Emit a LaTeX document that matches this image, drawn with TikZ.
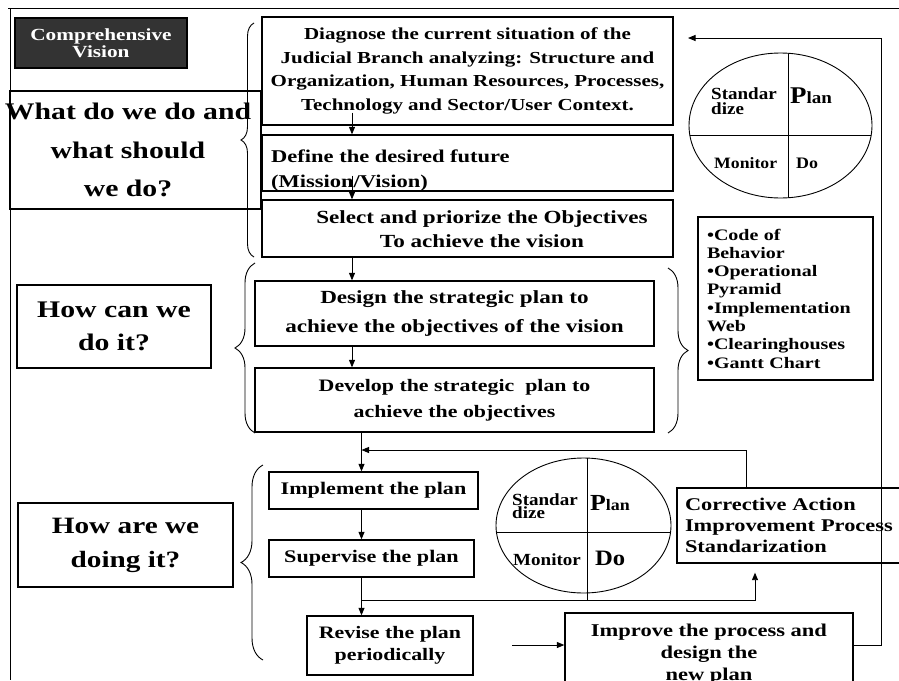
\documentclass[tikz,border=0pt]{standalone}
\usepackage{fontspec}
\setmainfont{Liberation Serif}[FakeStretch=1.25]
\newfontfamily\cyclefont{Liberation Serif}[FakeStretch=1.12]
\usetikzlibrary{arrows.meta,shapes.geometric,decorations.pathreplacing}
\newcommand\fs[2]{\fontsize{#1}{#2}\selectfont\bfseries}
\newcommand\cs[2]{\cyclefont\fontsize{#1}{#2}\selectfont\bfseries}
\begin{document}
\begin{tikzpicture}[x=1pt,y=-1pt,
  box/.style={draw, line width=1.3pt, inner sep=0pt, align=center},
  txt/.style={inner sep=0pt, align=center},
  conn/.style={line width=0.9pt, -{Triangle[length=7.5pt,width=6pt]}},
  plain/.style={line width=0.9pt},
  brc/.style={line width=0.9pt, decorate, decoration={brace, amplitude=#1}},
  lbl/.style={inner sep=0pt, anchor=base west},
  oval/.style={draw, ellipse, line width=0.9pt, inner sep=0pt},
]
\useasboundingbox (0,0) rectangle (899,680);

% outer frame
\draw[plain] (8,8) -- (899,8);
\draw[plain] (10,8) -- (10,680);

% question column
\node[box, fill=black!80, text=white, minimum width=172pt, minimum height=50pt, font=\fs{17}{17.5}] (cv) at (101,43) {Comprehensive\\Vision};
\node[box, minimum width=251pt, minimum height=118pt] (q1) at (135.5,150) {};
\node[txt, font=\fs{23.8}{38.5}] (q1t) at (128,150) {What do we do and\\what should\\we do?};
\node[box, minimum width=194pt, minimum height=83pt, font=\fs{23.8}{33}] (q2) at (114,326.5) {How can we\\do it?};
\node[box, minimum width=215pt, minimum height=84pt, font=\fs{23.4}{34}] (q3) at (125.5,545) {How are we\\doing it?};

% planning steps
\node[box, minimum width=411pt, minimum height=108pt, font=\fs{16.8}{23.5}] (diag) at (467.5,71)
  {Diagnose the current situation of the\\Judicial Branch analyzing: Structure and\\Organization, Human Resources, Processes,\\Technology and Sector/User Context.};
\node[box, minimum width=411pt, minimum height=56pt] (def) at (467.5,163) {};
\node[txt, anchor=north west, align=left, font=\fs{18}{25}] (deft) at (271,150)
  {Define the desired future\\(Mission/Vision)};
\node[box, minimum width=411pt, minimum height=57pt] (sel) at (467.5,228.5) {};
\node[txt, font=\fs{18.5}{23.5}] (selt) at (482,229)
  {Select and priorize the Objectives\\To achieve the vision};
\node[box, minimum width=399pt, minimum height=65pt, font=\fs{18.5}{29}] (des) at (454.5,313.5)
  {Design the strategic plan to\\achieve the objectives of the vision};
\node[box, minimum width=399pt, minimum height=64pt, font=\fs{17.5}{26}] (dev) at (454.5,400)
  {Develop the strategic\ \ plan to\\achieve the objectives};

% execution steps
\node[box, minimum width=209pt, minimum height=37pt, font=\fs{17.7}{20}] (imp) at (373.5,490.5) {Implement the plan};
\node[box, minimum width=205pt, minimum height=37pt, font=\fs{17.7}{20}] (sup) at (371.5,558.5) {Supervise the plan};
\node[box, minimum width=166pt, minimum height=59pt, font=\fs{17.5}{22}] (rev) at (390,645.5) {Revise the plan\\periodically};
\node[box, minimum width=288pt, minimum height=82pt, font=\fs{18}{22}] (imv) at (709,654) {Improve the process and\\design the\\new plan};
\node[box, minimum width=228pt, minimum height=75pt, align=left, text width=212pt, inner xsep=8pt, font=\fs{17.9}{21}] (cor) at (791,525.5)
  {Corrective Action\\Improvement Process\\Standarization};

% tools list
\node[box, minimum width=175pt, minimum height=163pt, align=left, text width=157pt, inner xsep=9pt, font=\fs{16}{18.3}] (tools) at (785.5,298.5)
  {•Code of\\Behavior\\•Operational\\Pyramid\\•Implementation\\Web\\•Clearinghouses\\•Gantt Chart};

% PDCA cycle, upper
\node[oval, minimum width=183pt, minimum height=145pt] (e1) at (780.5,125.5) {};
\begin{scope}
  \clip (780.5,125.5) ellipse [x radius=91.5pt, y radius=72.5pt];
  \draw[plain] (788,40) -- (788,210);
  \draw[plain] (680,135) -- (880,135);
\end{scope}
\node[inner sep=0pt, anchor=west, align=left, font=\cs{17}{15.5}] (e1s) at (711,101) {Standar\\dize};
\node[lbl, font=\cs{24}{24}] (e1p) at (790,103) {P{\cs{17}{17}lan}};
\node[lbl, font=\cs{15.8}{16}] (e1m) at (714,168) {Monitor};
\node[lbl, font=\cs{16}{16}] (e1d) at (796,168) {Do};

% PDCA cycle, lower
\node[oval, minimum width=175pt, minimum height=135pt] (e2) at (583.5,525.5) {};
\begin{scope}
  \clip (583.5,525.5) ellipse [x radius=87.5pt, y radius=67.5pt];
  \draw[plain] (480,532) -- (690,532);
\end{scope}
\draw[plain] (587,458.05) -- (587,600);
\node[inner sep=0pt, anchor=west, align=left, font=\cs{17}{12.5}] (e2s) at (512,506) {Standar\\dize};
\node[lbl, font=\cs{23}{23}] (e2p) at (590,510) {P{\cs{16}{16}lan}};
\node[lbl, font=\cs{17}{17}] (e2m) at (513,565) {Monitor};
\node[lbl, font=\cs{22}{22}] (e2d) at (595,565) {Do};

% braces
\draw[brc=13pt] (254,257) -- (254,23);
\draw[brc=20pt] (255,433) -- (255,263);
\draw[brc=20pt] (668,268) -- (668,433);
\draw[brc=22pt] (263,660) -- (263,465);

% connector guides
\coordinate (xa) at (352,0);
\coordinate (xb) at (361.5,0);
\coordinate (fbc) at (746,450);
\coordinate (brp) at (755,600);
\coordinate (imin) at (512,645);
\coordinate (fbr) at (881,38);
\coordinate (fbl) at (688,38);

% flow
\draw[conn] ([yshift=13pt]diag.south -| xa) -- (def.north -| xa);
\draw[conn] ([yshift=16pt]def.south -| xa) -- (sel.north -| xa);
\draw[conn] (sel.south -| xa) -- (des.north -| xa);
\draw[conn] (des.south -| xa) -- (dev.north -| xa);
\draw[conn] (dev.south -| xb) -- (imp.north -| xb);
\draw[conn] (imp.south -| xb) -- (sup.north -| xb);
\draw[conn] (sup.south -| xb) -- (rev.north -| xb);
\draw[conn] (cor.north -| fbc) -- (fbc) -- (fbc -| xb);
\draw[conn] (brp -| xb) -- (brp) -- ([yshift=-9pt]cor.south -| brp);
\draw[conn] (imin) -- (imin -| imv.west);
\draw[conn] (imv.east |- imin) -| (fbr) -- (fbl);
\end{tikzpicture}
\end{document}
